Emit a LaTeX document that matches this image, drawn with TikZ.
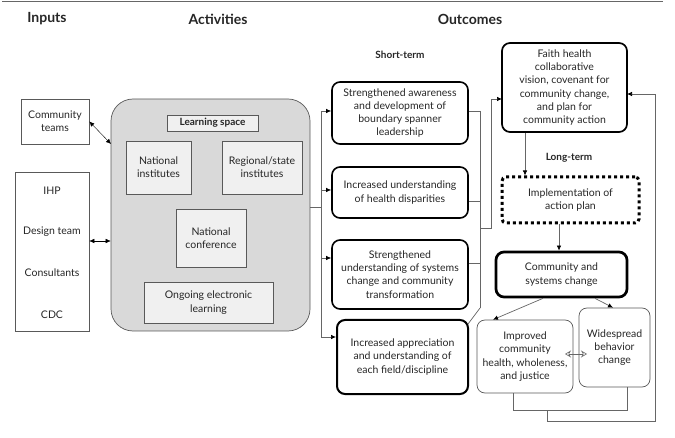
\documentclass[tikz,border=0pt]{standalone}
\usepackage{fontspec}
\setmainfont{Lato}
\usetikzlibrary{arrows.meta}

\begin{document}
\begin{tikzpicture}[x=1pt, y=-1pt,
            every node/.style={font=\fontsize{10.5}{13.3}\selectfont, text=black!85, align=center, inner sep=1pt},
            header/.style={font=\fontsize{14}{16}\selectfont\bfseries},
            subhead/.style={font=\fontsize{10}{12}\selectfont\bfseries},
            inbox/.style={rectangle, draw=black!65, line width=0.7pt},
            actbox/.style={rectangle, draw=black!65, line width=0.7pt, fill=black!6},
            outbox/.style={rectangle, rounded corners=8pt, draw=black, line width=1.6pt},
            endbox/.style={rectangle, rounded corners=8pt, draw=black!65, line width=0.7pt},
            link/.style={draw=black!60, line width=0.7pt},
            arr/.style={-{Latex[length=5pt, width=4.5pt, color=black]}},
            darr/.style={{Latex[length=5pt, width=4.5pt]}-{Latex[length=5pt, width=4.5pt]}},
            oarr/.style={{Stealth[open, length=6pt, width=7pt]}-{Stealth[open, length=6pt, width=7pt]}}]
            \useasboundingbox (0,0) rectangle (675,438);
            % Headers
            \draw[black!60, line width=0.8pt] (2,1.5) -- (663,1.5);
            \node[header] (hin) at (47,19) {Inputs};
            \node[header] (hact) at (218,19) {Activities};
            \node[header] (hout) at (470,19) {Outcomes};
            \node[subhead] (hshort) at (400,55) {Short-term};
            \node[subhead] (hlong) at (569,158) {Long-term};
            
            % Inputs
            \node[inbox, minimum width=68pt, minimum height=45pt] (ct) at (55,121.5) {Community\\teams};
            \node[inbox, minimum width=74pt, minimum height=159pt] (inp) at (52,251.5) {};
            \node (ihp) at (52,191) {IHP};
            \node (dt) at (52,232) {Design team};
            \node (cons) at (52,273) {Consultants};
            \node (cdc) at (52,315) {CDC};
            
            % Activities
            \node[rectangle, rounded corners=22pt, draw=black!65, line width=0.7pt, fill=black!15, minimum width=199pt, minimum height=232pt] (ls) at (210.5,215) {};
            \node[actbox, font=\fontsize{10}{12}\selectfont\bfseries, minimum width=91pt, minimum height=16pt] (lsl) at (212.5,123) {Learning space};
            \node[actbox, minimum width=65pt, minimum height=53pt] (ni) at (158.5,167.5) {National\\institutes};
            \node[actbox, minimum width=80pt, minimum height=53pt] (rs) at (262,167.5) {Regional/state\\institutes};
            \node[actbox, minimum width=70pt, minimum height=58pt] (nc) at (211,238) {National\\conference};
            \node[actbox, minimum width=129pt, minimum height=41pt] (oe) at (208.5,302.5) {Ongoing electronic\\learning};
            
            \coordinate (lsct) at (111,144);
            \draw[darr] (ct.east) -- (lsct);
            \draw[darr] ([yshift=10.5pt]inp.east) -- ([yshift=10.5pt]inp.east -| ls.west);
            
            % Short-term outcomes
            \node[outbox, minimum width=136pt, minimum height=62pt] (s1) at (400,113) {Strengthened awareness\\and development of\\boundary spanner\\leadership};
            \node[outbox, minimum width=136pt, minimum height=51pt] (s2) at (400,192.5) {Increased understanding\\of health disparities};
            \node[outbox, minimum width=136pt, minimum height=69pt] (s3) at (400,274.5) {Strengthened\\understanding of systems\\change and community\\transformation};
            \node[outbox, line width=2pt, minimum width=131pt, minimum height=74pt] (s4) at (402.5,357) {Increased appreciation\\and understanding of\\each field/discipline};
            
            \coordinate (bj) at (321,207);
            \coordinate (b1) at (321,111);
            \coordinate (b2) at (321,190);
            \coordinate (b3) at (321,258);
            \coordinate (b4) at (321,337);
            \draw[link] (ls.east |- bj) -- (bj);
            \draw[link] (b1) -- (b4);
            \draw[link, arr] (b1) -- (b1 -| s1.west);
            \draw[link, arr] (b2) -- (b2 -| s2.west);
            \draw[link, arr] (b3) -- (b3 -| s3.west);
            \draw[link, arr] (b4) -- (b4 -| s4.west);
            
            \coordinate (r1) at (480,111);
            \coordinate (r2) at (480,201);
            \coordinate (r3) at (480,263);
            \coordinate (r4) at (480,308);
            \coordinate (rj) at (480,228);
            \coordinate (rk) at (491,228);
            \coordinate (fa) at (502,99);
            \draw[link] (s1.east |- r1) -- (r1);
            \draw[link] (s2.east |- r2) -- (r2);
            \draw[link] (s3.east |- r3) -- (r3);
            \draw[link] ([shift={(-1,5)}]s4.north east) -- (r4);
            \draw[link] (r1) -- (r4);
            \draw[link, arr] (rj) -- (rk) |- (fa);
            
            % Long-term outcomes
            \node[outbox, line width=1.7pt, minimum width=125pt, minimum height=89pt] (faith) at (564.5,87.5) {Faith health\\collaborative\\vision, covenant for\\community change,\\and plan for\\community action};
            \node[rectangle, rounded corners=4pt, draw=black, line width=3pt, dash pattern=on 3pt off 3pt, minimum width=137pt, minimum height=46pt] (impl) at (570.5,200) {Implementation of\\action plan};
            \node[outbox, line width=2.7pt, minimum width=131pt, minimum height=45pt] (csc) at (561.5,274.5) {Community and\\systems change};
            \node[endbox, minimum width=96pt, minimum height=73pt] (imp) at (525,356.5) {Improved\\community\\health, wholeness,\\and justice};
            \node[endbox, minimum width=71pt, minimum height=79pt] (wb) at (614.5,347.5) {Widespread\\behavior\\change};
            
            \draw[link, arr] ([xshift=-39.5pt]faith.south) -- ([xshift=-39.5pt]faith.south |- impl.north);
            \draw[link, arr] ([xshift=-11.5pt]impl.south) -- ([xshift=-11.5pt]impl.south |- csc.north);
            \draw[link, arr] ([xshift=-18.5pt]csc.south) -- ([xshift=-32pt]imp.north);
            \draw[link, arr] ([xshift=33.5pt]csc.south) -- ([xshift=-1.5pt]wb.north);
            
            \coordinate (dl) at (565,354);
            \coordinate (dr) at (587,354);
            \draw[black!60, line width=0.6pt, oarr] (dl) -- (dr);
            
            % Feedback loops
            \coordinate (fb) at (547,410);
            \coordinate (fe) at (627,94);
            \draw[link] ([xshift=-12pt]imp.south) -- ++(0,17) -| ([xshift=12.5pt]wb.south);
            \draw[link, arr] (fb) -- ++(0,11) -| ([xshift=28pt]fe) -- (fe);
        \end{tikzpicture}
\end{document}
